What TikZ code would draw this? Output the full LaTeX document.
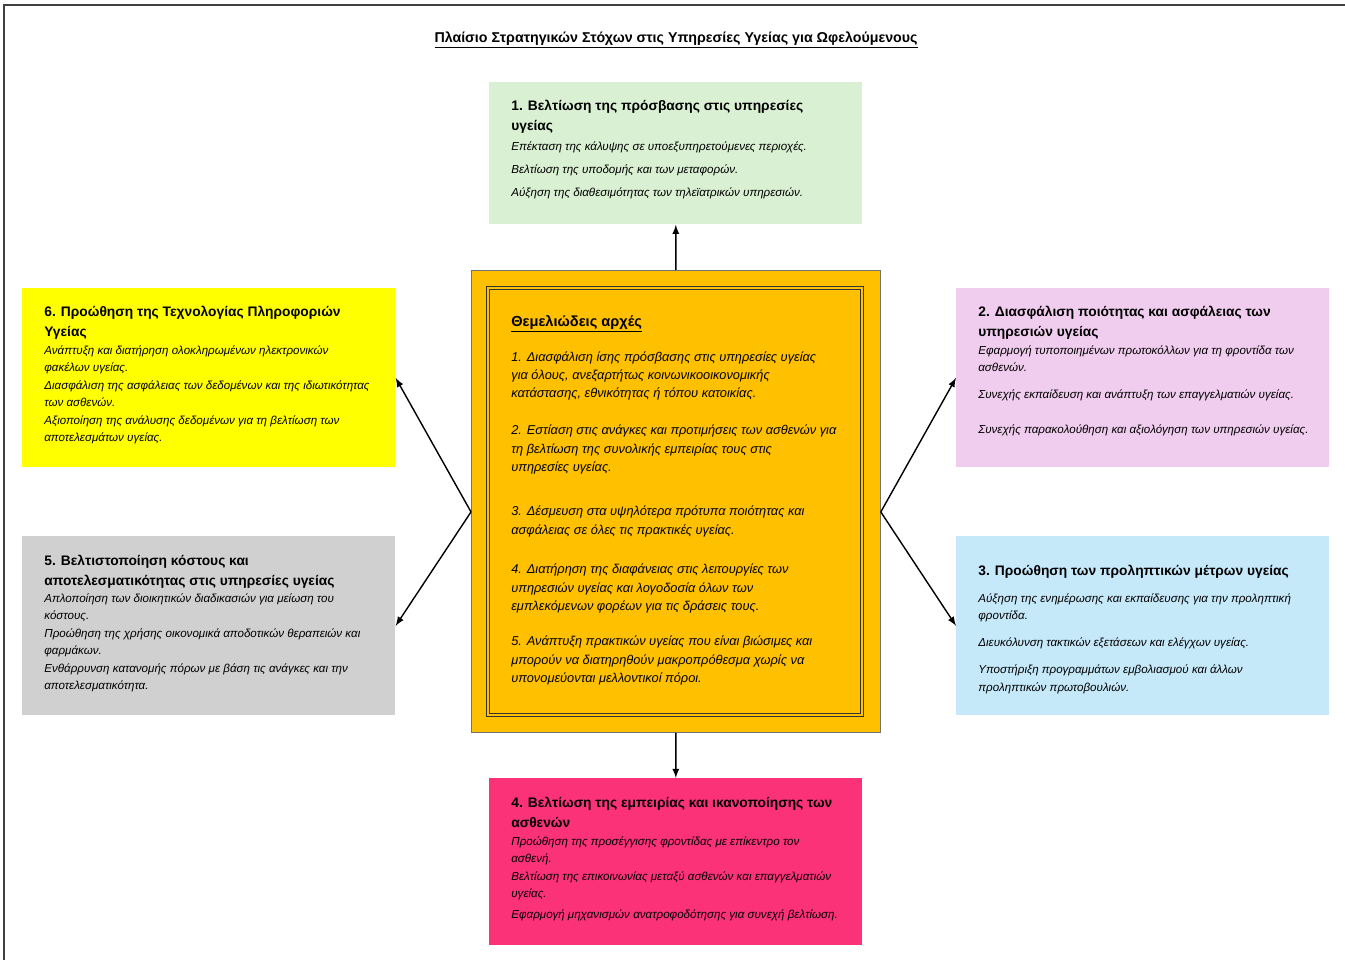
\documentclass[tikz,border=0pt]{standalone}
\usepackage{fontspec}
\setmainfont{Liberation Sans}

\definecolor{accessgreen}{RGB}{217,240,211}
\definecolor{techyellow}{RGB}{255,255,0}
\definecolor{qualitylilac}{RGB}{240,205,238}
\definecolor{costgray}{RGB}{208,208,208}
\definecolor{preventblue}{RGB}{198,233,250}
\definecolor{patientpink}{RGB}{252,50,120}
\definecolor{coreorange}{RGB}{255,192,0}

\newcommand\hdfont{\bfseries\fontsize{7.85}{11.4}\selectfont}
\newcommand\itmfont{\itshape\fontsize{6.6}{10}\selectfont}
\newcommand\corefont{\itshape\fontsize{7.3}{10.5}\selectfont}

\tikzset{
	goalbox/.style={anchor=north west, inner sep=0pt, minimum width=7.46cm, minimum height=3.58cm},
	hd/.style={anchor=north west, inner sep=0pt, align=left, font=\hdfont},
	itm/.style={anchor=north west, inner sep=0pt, align=left, font=\itmfont},
	arr/.style={-latex, thick}
}

\begin{document}
	\begin{tikzpicture}[x=0.02cm, y=-0.02cm]

		\useasboundingbox (0,0) rectangle (1345,960);

		% frame
		\draw[black!75, line width=0.6pt] (4,960) -- (4,5) -- (1345,5);

		% title
		\node[font=\bfseries\fontsize{8.1}{10}\selectfont] (title) at (676,40) {\underline{Πλαίσιο Στρατηγικών Στόχων στις Υπηρεσίες Υγείας για Ωφελούμενους}};

		% boxes
		\node[goalbox, fill=accessgreen, minimum height=2.84cm] (access) at (489,82) {};
		\node[goalbox, fill=techyellow] (tech) at (22,288) {};
		\node[goalbox, fill=qualitylilac] (quality) at (956,288) {};
		\node[goalbox, fill=costgray] (cost) at (22,536) {};
		\node[goalbox, fill=preventblue] (prevent) at (956,536) {};
		\node[goalbox, fill=patientpink, minimum height=3.34cm] (patient) at (489,778) {};
		\node[goalbox, fill=coreorange, draw=black!55, line width=0.5pt, minimum width=8.18cm, minimum height=9.24cm] (core) at (471,270) {};
		\draw[black!80, double=coreorange, double distance=1.1pt, line width=0.5pt] (488,288) rectangle (862,715);

		% 1
		\node[hd] (accesshead) at (511,100) {1. Βελτίωση της πρόσβασης στις υπηρεσίες\\ υγείας};
		\node[itm] (accesslist) at (511,141) {Επέκταση της κάλυψης σε υποεξυπηρετούμενες περιοχές.\\[3.1pt]
			Βελτίωση της υποδομής και των μεταφορών.\\[3.1pt]
			Αύξηση της διαθεσιμότητας των τηλεϊατρικών υπηρεσιών.};

		% 2
		\node[hd] (qualityhead) at (978,306) {2. Διασφάλιση ποιότητας και ασφάλειας των\\ υπηρεσιών υγείας};
		\node[itm] (qualitylist) at (978,345) {Εφαρμογή τυποποιημένων πρωτοκόλλων για τη φροντίδα των\\ ασθενών.\\[5.4pt]
			Συνεχής εκπαίδευση και ανάπτυξη των επαγγελματιών υγείας.\\[9.9pt]
			Συνεχής παρακολούθηση και αξιολόγηση των υπηρεσιών υγείας.};

		% 3
		\node[hd] (preventhead) at (978,565) {3. Προώθηση των προληπτικών μέτρων υγείας};
		\node[itm] (preventlist) at (978,593) {Αύξηση της ενημέρωσης και εκπαίδευσης για την προληπτική\\ φροντίδα.\\[5.4pt]
			Διευκόλυνση τακτικών εξετάσεων και ελέγχων υγείας.\\[5.4pt]
			Υποστήριξη προγραμμάτων εμβολιασμού και άλλων\\ προληπτικών πρωτοβουλιών.};

		% 4
		\node[hd] (patienthead) at (511,797) {4. Βελτίωση της εμπειρίας και ικανοποίησης των\\ ασθενών};
		\node[itm] (patientlist) at (511,836) {Προώθηση της προσέγγισης φροντίδας με επίκεντρο τον\\ ασθενή.\\
			Βελτίωση της επικοινωνίας μεταξύ ασθενών και επαγγελματιών\\ υγείας.\\[1.5pt]
			Εφαρμογή μηχανισμών ανατροφοδότησης για συνεχή βελτίωση.};

		% 5
		\node[hd] (costhead) at (44,555) {5. Βελτιστοποίηση κόστους και\\ αποτελεσματικότητας στις υπηρεσίες υγείας};
		\node[itm] (costlist) at (44,593) {Απλοποίηση των διοικητικών διαδικασιών για μείωση του\\ κόστους.\\
			Προώθηση της χρήσης οικονομικά αποδοτικών θεραπειών και\\ φαρμάκων.\\
			Ενθάρρυνση κατανομής πόρων με βάση τις ανάγκες και την\\ αποτελεσματικότητα.};

		% 6
		\node[hd] (techhead) at (44,306) {6. Προώθηση της Τεχνολογίας Πληροφοριών\\ Υγείας};
		\node[itm] (techlist) at (44,345) {Ανάπτυξη και διατήρηση ολοκληρωμένων ηλεκτρονικών\\ φακέλων υγείας.\\
			Διασφάλιση της ασφάλειας των δεδομένων και της ιδιωτικότητας\\ των ασθενών.\\
			Αξιοποίηση της ανάλυσης δεδομένων για τη βελτίωση των\\ αποτελεσμάτων υγείας.};

		% core principles
		\node[hd, font=\bfseries\fontsize{8.3}{10}\selectfont] (corehead) at (511,315) {\underline{Θεμελιώδεις αρχές}};
		\node[itm, font=\corefont] (corelist) at (511,351) {1. Διασφάλιση ίσης πρόσβασης στις υπηρεσίες υγείας\\ για όλους, ανεξαρτήτως κοινωνικοοικονομικής\\ κατάστασης, εθνικότητας ή τόπου κατοικίας.\\[10.5pt]
			2. Εστίαση στις ανάγκες και προτιμήσεις των ασθενών για\\ τη βελτίωση της συνολικής εμπειρίας τους στις\\ υπηρεσίες υγείας.\\[14.5pt]
			3. Δέσμευση στα υψηλότερα πρότυπα ποιότητας και\\ ασφάλειας σε όλες τις πρακτικές υγείας.\\[12.2pt]
			4. Διατήρηση της διαφάνειας στις λειτουργίες των\\ υπηρεσιών υγείας και λογοδοσία όλων των\\ εμπλεκόμενων φορέων για τις δράσεις τους.\\[9.4pt]
			5. Ανάπτυξη πρακτικών υγείας που είναι βιώσιμες και\\ μπορούν να διατηρηθούν μακροπρόθεσμα χωρίς να\\ υπονομεύονται μελλοντικοί πόροι.};

		% arrows
		\draw[arr] (core.north) -- (access.south);
		\draw[arr] (core.south) -- (patient.north);
		\draw[arr] ([yshift=-6pt]core.west) -- (tech.east);
		\draw[arr] ([yshift=-6pt]core.west) -- (cost.east);
		\draw[arr] ([yshift=-6pt]core.east) -- (quality.west);
		\draw[arr] ([yshift=-6pt]core.east) -- (prevent.west);

	\end{tikzpicture}
\end{document}
